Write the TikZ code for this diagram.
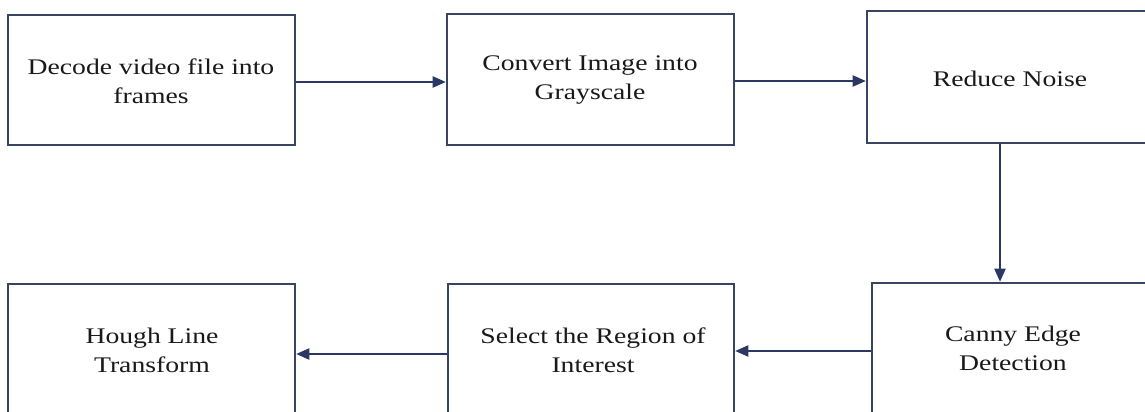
\documentclass[tikz,border=0pt]{standalone}
\usepackage{fontspec}
\newfontfamily\boxfont[FakeStretch=1.24]{Liberation Serif}
\usetikzlibrary{arrows.meta}
\definecolor{edge}{RGB}{56,68,98}
\definecolor{arrowc}{RGB}{44,56,100}
\definecolor{ink}{RGB}{25,25,25}
\begin{document}
\begin{tikzpicture}[x=0.02cm,y=-0.02cm,
  boxnode/.style={draw=edge,line width=1.5pt,inner sep=0pt,fill=white},
  txt/.style={align=center,text=ink,inner sep=0pt,
    font=\boxfont\fontsize{12.7}{16.5}\selectfont,
    execute at begin node=\strut,execute at end node=\strut},
  arr/.style={draw=arrowc,line width=0.75pt,-{Triangle[length=7.5pt,width=6.5pt]},arrowc}]
\useasboundingbox (0,0) rectangle (1145,412);
\clip (0,0) rectangle (1145,412);
% boxes
\node[boxnode,minimum width=5.74cm,minimum height=2.60cm] (b1) at (151.5,80) {};
\node[boxnode,minimum width=5.74cm,minimum height=2.62cm] (b2) at (590.5,79.5) {};
\node[boxnode,minimum width=5.72cm,minimum height=2.64cm] (b3) at (1010,77) {};
\node[boxnode,minimum width=5.74cm,minimum height=2.62cm] (b4) at (151.5,349.5) {};
\node[boxnode,minimum width=5.72cm,minimum height=2.62cm] (b5) at (591,349.5) {};
\node[boxnode,minimum width=5.64cm,minimum height=2.64cm] (b6) at (1013,349) {};
% texts
\node[txt] (t1) at (151,85.7) {Decode video file into\\frames};
\node[txt] (t2) at (590,81.7) {Convert Image into\\Grayscale};
\node[txt] (t3) at (1010,81.2) {Reduce Noise};
\node[txt] (t4) at (152,354.7) {Hough Line\\Transform};
\node[txt] (t5) at (593,354.7) {Select the Region of\\Interest};
\node[txt] (t6) at (1013,352.7) {Canny Edge\\Detection};
% connector guides
\coordinate (ya) at (0,82);
\coordinate (yb) at (0,81);
\coordinate (xc) at (1000,0);
\coordinate (yd) at (0,351);
\coordinate (ye) at (0,354);
% connectors
\draw[arr] (b1.east |- ya) -- (b2.west |- ya);
\draw[arr] (b2.east |- yb) -- (b3.west |- yb);
\draw[arr] (b3.south -| xc) -- (b6.north -| xc);
\draw[arr] (b6.west |- yd) -- (b5.east |- yd);
\draw[arr] (b5.west |- ye) -- (b4.east |- ye);
\end{tikzpicture}
\end{document}
